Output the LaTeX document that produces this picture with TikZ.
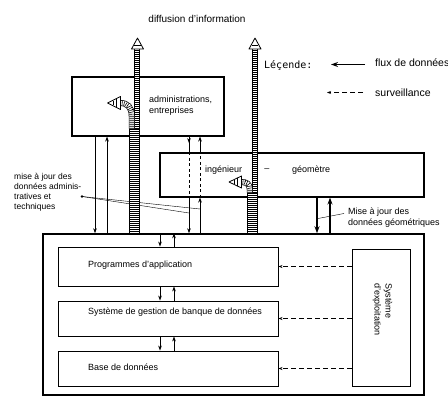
\documentclass[tikz,border=0pt]{standalone}
\usepackage{fontspec}
\setmainfont{Liberation Sans}
\newfontfamily\legfont{DejaVu Sans Mono}
\usetikzlibrary{arrows.meta}
\newcommand\hatchbar[3]{%
  \draw[line width=#1] #3;
  \draw[white, line width=#2] #3;
  \draw[line width=#2, dash pattern=on 0.6pt off 1.4pt] #3;}
\begin{document}
\begin{tikzpicture}[x=1pt,y=-1pt,
  box/.style={draw, line width=1.1pt, inner sep=0pt},
  ibox/.style={draw, line width=0.9pt, inner sep=0pt},
  lbl/.style={font=\fontsize{9}{11}\selectfont, inner sep=0pt},
  small/.style={font=\fontsize{8.5}{10}\selectfont, inner sep=0pt},
  leg/.style={font=\fontsize{10.5}{12}\selectfont, inner sep=0pt},
  flow/.style={line width=0.7pt, -{Stealth[length=5pt,width=3.6pt]}},
  thickflow/.style={line width=1.3pt, -{Stealth[length=7pt,width=5pt]}},
  surv/.style={line width=0.9pt, dash pattern=on 5pt off 3pt, -{Stealth[length=4pt,width=3pt]}},
  survline/.style={line width=0.8pt, dash pattern=on 3pt off 2.5pt},
  leader/.style={line width=0.4pt},
  headbox/.style={draw, fill=white, line width=0.8pt, line join=round}]
\useasboundingbox (0,0) rectangle (448,397);

% columns
\coordinate (c95) at (95,0);
\coordinate (c107) at (107,0);
\coordinate (c160) at (160,0);
\coordinate (c174) at (174,0);
\coordinate (c189) at (189,0);
\coordinate (c200) at (200,0);
\coordinate (c317) at (317,0);
\coordinate (c330) at (330,0);
\coordinate (l1) at (134.5,0);
\coordinate (l2) at (252.5,0);

% boxes
\node[box, minimum width=152pt, minimum height=59pt] (admin) at (148,106.5) {};
\node[box, minimum width=264pt, minimum height=44pt] (inge) at (292,175) {};
\node[box, line width=1.5pt, minimum width=381pt, minimum height=161pt] (main) at (233.5,314.5) {};
\node[ibox, minimum width=220pt, minimum height=39pt] (prog) at (168,266.5) {};
\node[ibox, minimum width=220pt, minimum height=35pt] (sgbd) at (168,318.5) {};
\node[ibox, minimum width=220pt, minimum height=35pt] (base) at (168,368.5) {};
\node[ibox, minimum width=58pt, minimum height=137pt] (sexp) at (381,317.5) {};

% texts
\node[font=\fontsize{10}{12}\selectfont, inner sep=0pt] (title) at (197,19) {diffusion d’information};
\node[lbl, anchor=west] (tadm) at (149,100) {administrations,};
\node[lbl, anchor=west] (tent) at (149,111.5) {entreprises};
\node[lbl, anchor=west] (ting) at (205,170) {ingénieur};
\node[lbl] (tdash) at (267,170) {–};
\node[lbl, anchor=west] (tgeo) at (292,170) {géomètre};
\node[lbl, anchor=west] (tprog) at (88,265) {Programmes d’application};
\node[lbl, anchor=west] (tsgbd) at (88,312) {Système de gestion de banque de données};
\node[lbl, anchor=west] (tbase) at (88,367) {Base de données};
\node[lbl, rotate=-90, align=left, anchor=west] (tsexp) at (382.5,283) {Système\\d’exploitation};
\node[small, align=left, anchor=north west] (tmaj) at (14,173.5) {mise à jour des\\données adminis-\\tratives et\\techniques};
\node[lbl, align=left, anchor=north west] (tmajg) at (348,207.5) {Mise à jour des\\données géométriques};

% legend
\node[font=\legfont\fontsize{10}{12}\selectfont, inner sep=0pt, anchor=west] (tleg) at (264,65) {Léçende:};
\node[leg, anchor=west] (tflux) at (375,62.5) {flux de données};
\node[leg, anchor=west] (tsurv) at (375,93) {surveillance};
\coordinate (lf1) at (365,64.5);
\coordinate (lf2) at (331,64.5);
\coordinate (ls1) at (363,92.5);
\coordinate (ls2) at (327,92.5);
\draw[line width=1.3pt, -{Stealth[length=7pt,width=5pt]}] (lf1) -- (lf2);
\draw[surv] (ls1) -- (ls2);

% admin <-> main
\draw[flow] (admin.south -| c95) -- (main.north -| c95);
\draw[flow] (main.north -| c107) -- (admin.south -| c107);
% through ingenieur box
\draw[line width=0.7pt] (admin.south -| c189) -- (inge.north -| c189);
\draw[flow] (admin.south -| c189) -- ++(0,6.5);
\draw[survline] (inge.north -| c189) -- (inge.south -| c189);
\draw[flow] (inge.south -| c189) -- (main.north -| c189);
\draw[flow] (main.north -| c200) -- (inge.south -| c200);
\draw[survline] (inge.south -| c200) -- (inge.north -| c200);
\draw[flow] (inge.north -| c200) -- (admin.south -| c200);
% ingenieur <-> main
\draw[thickflow] (inge.south -| c317) -- (main.north -| c317);
\draw[thickflow] (main.north -| c330) -- (inge.south -| c330);
% main <-> inner boxes
\draw[flow] (main.north -| c160) -- (prog.north -| c160);
\draw[flow] (prog.north -| c174) -- (main.north -| c174);
\draw[flow] (prog.south -| c160) -- (sgbd.north -| c160);
\draw[flow] (sgbd.north -| c174) -- (prog.south -| c174);
\draw[flow] (sgbd.south -| c160) -- (base.north -| c160);
\draw[flow] (base.north -| c174) -- (sgbd.south -| c174);
% surveillance
\draw[surv] (sexp.west |- prog.east) -- (prog.east);
\draw[surv] (sexp.west |- sgbd.east) -- (sgbd.east);
\draw[surv] (sexp.west |- base.east) -- (base.east);

% leaders
\coordinate (m0) at (82,196.5);
\coordinate (m1) at (189,213);
\coordinate (m2) at (200,209);
\fill (m0) circle (1.3pt);
\draw[leader] (m0) -- (m1);
\draw[leader] (m0) -- (m2);
\coordinate (g0) at (344,213.5);
\coordinate (g1) at (318,218.5);
\draw[leader] (g0) -- (g1);

% hatched information arrows
\hatchbar{11pt}{9.6pt}{(main.north -| l1) -- (134.5,128)}
\hatchbar{6pt}{4.6pt}{(137,128.5) -- (137,49)}
\hatchbar{6pt}{4.6pt}{(131.75,128.5) -- (131.75,116) .. controls (131.75,107) and (127.5,103) .. (120,103)}
\draw[headbox] (131.5,49) -- (137.5,38) -- (143.5,49) -- cycle;
\draw[line width=0.6pt] (134.2,45) -- (140.8,45);
\draw[headbox] (120.5,96.5) -- (107.5,103) -- (120.5,109.5) -- cycle;
\draw[line width=0.6pt] (116.5,98.8) -- (116.5,107.2);
\draw[line width=0.6pt] (113,100.8) -- (113,105.2);

\hatchbar{11pt}{9.6pt}{(main.north -| l2) -- (252.5,192)}
\hatchbar{6pt}{4.6pt}{(255,192.5) -- (255,49)}
\hatchbar{6pt}{4.6pt}{(249.75,192.5) -- (249.75,189) .. controls (249.75,184) and (246.5,182) .. (241,182)}
\draw[headbox] (249,49) -- (255,38) -- (261,49) -- cycle;
\draw[line width=0.6pt] (251.7,45) -- (258.3,45);
\draw[headbox] (241.5,176) -- (229,182) -- (241.5,188) -- cycle;
\draw[line width=0.6pt] (237.5,178) -- (237.5,186);
\draw[line width=0.6pt] (234,179.7) -- (234,184.3);
\end{tikzpicture}
\end{document}
